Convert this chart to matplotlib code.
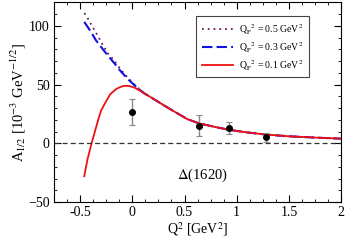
import matplotlib
matplotlib.use("Agg")
from matplotlib import pyplot as plt
from matplotlib.ticker import MultipleLocator, FuncFormatter

plt.rcParams["font.family"] = "Liberation Serif"
plt.rcParams["mathtext.fontset"] = "stix"

# curves
q2_red = [-0.46, -0.43, -0.39, -0.33, -0.30, -0.25, -0.21, -0.15, -0.10, -0.07, -0.03, 0.02,
          0.09, 0.2, 0.3, 0.39, 0.53, 0.64, 0.8, 0.93, 1.1, 1.28, 1.5, 1.75, 2.0]
a_red = [-28, -14, 0, 19, 27.7, 36, 42, 46.5, 48.5, 49, 48.8, 47.5,
         44, 38, 32.5, 27.7, 20.5, 17, 13.8, 11.5, 9.3, 7.5, 6.0, 4.9, 4.0]

q2_blue = [-0.46, -0.40, -0.35, -0.29, -0.24, -0.17, -0.11, -0.04, 0.03, 0.107]
a_blue = [103.4, 95.5, 88, 81, 75.4, 68, 61.3, 54.5, 48.7, 43]

q2_dot = [-0.459, -0.428, -0.371, -0.34, -0.286, -0.23, -0.18, -0.11, -0.04, 0.03, 0.107]
a_dot = [110.9, 106.7, 97.7, 93, 84.3, 76.2, 71.2, 62.7, 55.5, 49.2, 43]

# data points
q2_pts = [0.0, 0.64, 0.93, 1.28]
a_pts = [27, 15, 13, 5]
a_err = [11, 9, 5, 3.5]

fig = plt.figure(figsize=(3.46, 2.40), dpi=100)
ax = fig.add_axes([0.156, 0.158, 0.830, 0.832])

# dotted/dashed curves join the red one beyond their meeting point
tail = [i for i, q in enumerate(q2_red) if q > 0.107]
ax.plot(q2_dot + [q2_red[i] for i in tail], a_dot + [a_red[i] for i in tail],
        ls=(0, (1, 2.2)), color='#6b1a5c', lw=1.3, label=r'Q$_{\rm P}$$^2$ = 0.5 GeV$^2$')
ax.plot(q2_blue + [q2_red[i] for i in tail], a_blue + [a_red[i] for i in tail],
        ls=(0, (5, 2)), color='#1010e0', lw=1.5, label=r'Q$_{\rm P}$$^2$ = 0.3 GeV$^2$')
ax.plot(q2_red, a_red, color='#f01010', lw=1.3, label=r'Q$_{\rm P}$$^2$ = 0.1 GeV$^2$')

ax.axhline(0, color='#333333', ls=(0, (4, 2.5)), lw=0.9)

ax.errorbar(q2_pts, a_pts, yerr=a_err, fmt='o', color='black', ms=4,
            ecolor='#888888', elinewidth=1, capsize=2.5, capthick=0.8)

ax.text(0.43, -27, r'$\Delta$(1620)', fontsize=10.5, va='center', ha='left')

ax.set_xlim(-0.75, 2.0)
ax.set_ylim(-50, 120)
ax.xaxis.set_major_locator(MultipleLocator(0.5))
ax.xaxis.set_minor_locator(MultipleLocator(0.125))
ax.xaxis.set_major_formatter(FuncFormatter(lambda v, p: '%g' % v))
ax.yaxis.set_major_locator(MultipleLocator(50))
ax.yaxis.set_minor_locator(MultipleLocator(10))
ax.tick_params(which='both', direction='in', top=True, right=True, labelsize=10, pad=3)
ax.tick_params(which='major', length=5)
ax.tick_params(which='minor', length=2.5)
ax.set_xlabel(r'Q$^2$ [GeV$^2$]', fontsize=10, labelpad=1)
ax.set_ylabel(r'A$_{1/2}$ [10$^{-3}$ GeV$^{-1/2}$]', fontsize=10.5, labelpad=0)

leg = ax.legend(loc='upper right', bbox_to_anchor=(0.905, 0.955), fontsize=7,
                fancybox=False, edgecolor='#444444', framealpha=1,
                handlelength=3.2, borderpad=0.6, labelspacing=0.4, handletextpad=0.6)
leg.get_frame().set_linewidth(0.8)

fig.savefig('out.png', dpi=100)
